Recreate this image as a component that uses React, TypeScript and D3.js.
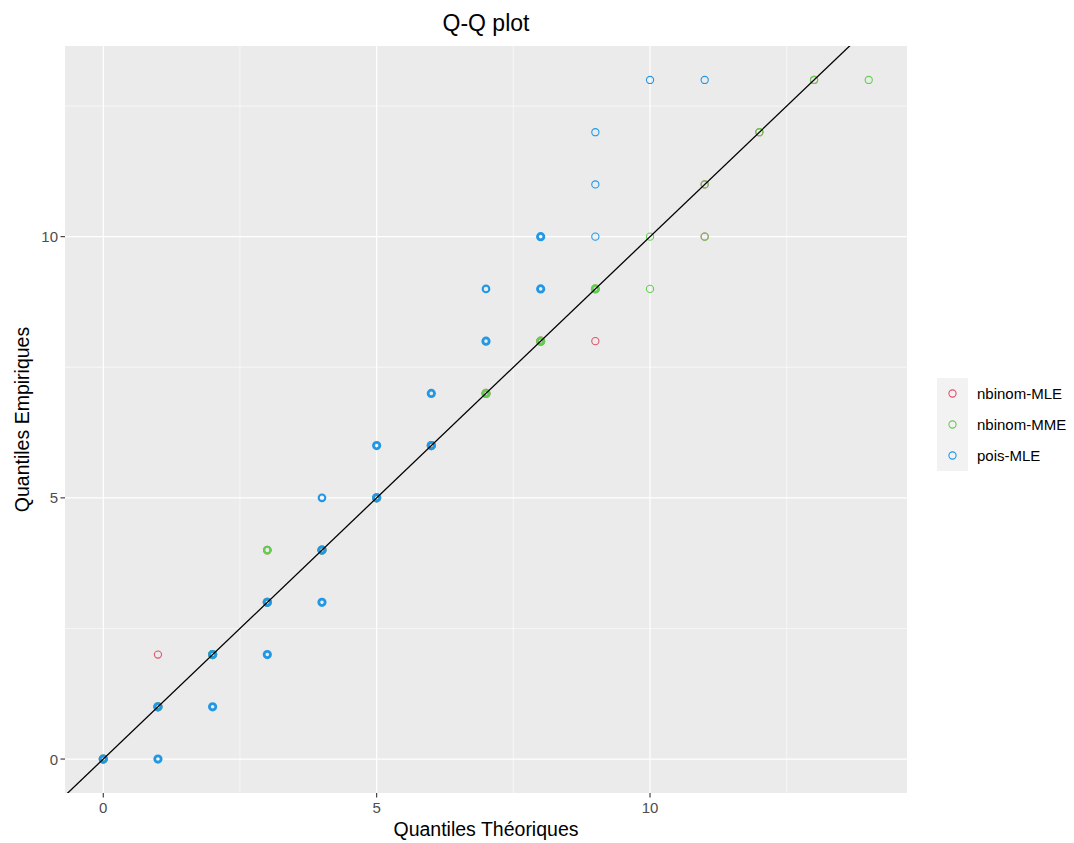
import * as d3 from "d3";
import React from "react";

// series, in drawing order (pois-MLE ends up on top)
const seriesNames = ["nbinom-MLE", "nbinom-MME", "pois-MLE"];
const seriesColors = ["#DF536B", "#61D04F", "#2297E6"];

// [theoretical quantile, empirical quantile, number of overlapping points]
const nbinomMLE: [number, number, number][] = [
  [0, 0, 4], [1, 1, 3], [1, 2, 1], [2, 2, 3], [3, 3, 3], [3, 4, 2],
  [4, 4, 3], [5, 5, 3], [6, 6, 3], [7, 7, 3], [8, 8, 3], [9, 8, 1],
  [9, 9, 2], [11, 10, 1], [11, 11, 1], [12, 12, 1], [13, 13, 1],
];
const nbinomMME: [number, number, number][] = [
  [0, 0, 4], [1, 1, 3], [2, 2, 3], [3, 3, 3], [3, 4, 2], [4, 4, 3],
  [5, 5, 3], [6, 6, 3], [7, 7, 3], [8, 8, 3], [9, 9, 3], [10, 9, 1],
  [10, 10, 1], [11, 10, 1], [11, 11, 1], [12, 12, 1], [13, 13, 1], [14, 13, 1],
];
const poisMLE: [number, number, number][] = [
  [0, 0, 4], [1, 0, 3], [1, 1, 3], [2, 1, 3], [2, 2, 3], [3, 2, 3],
  [3, 3, 3], [4, 3, 3], [4, 4, 3], [4, 5, 2], [5, 5, 3], [5, 6, 3],
  [6, 6, 3], [6, 7, 3], [7, 8, 3], [7, 9, 2], [8, 9, 3], [8, 10, 3],
  [9, 10, 1], [9, 11, 1], [9, 12, 1], [10, 13, 1], [11, 13, 1],
];
const seriesData = [nbinomMLE, nbinomMME, poisMLE];

const xTicks = [0, 5, 10];
const yTicks = [0, 5, 10];
const xMinor = [2.5, 7.5, 12.5];
const yMinor = [2.5, 7.5, 12.5];

const title = "Q-Q plot";
const xTitle = "Quantiles Théoriques";
const yTitle = "Quantiles Empiriques";

const W = 1074;
const H = 843;
const panel = { bottom: 793, left: 65, right: 907, top: 46 };
const font = "'Liberation Sans', Arial, Helvetica, sans-serif";

export default function App(): React.ReactElement {
  // ggplot style 5% expansion around [0,14] x [0,13]
  const x = d3.scaleLinear().domain([-0.7, 14.7]).range([panel.left, panel.right]);
  const y = d3.scaleLinear().domain([-0.65, 13.65]).range([panel.bottom, panel.top]);

  // overlapping hollow circles look heavier, so thicken the ring with the count
  const ringFor = (n: number) =>
    n >= 3 ? { r: 3.2, sw: 2.8 } : n === 2 ? { r: 3.3, sw: 2.1 } : { r: 3.6, sw: 1.1 };

  const lineGen = d3.line<number>().x((v) => x(v)).y((v) => y(v));
  const diag = lineGen([-1, 16]) ?? "";

  const pw = panel.right - panel.left;
  const ph = panel.bottom - panel.top;
  const midX = (panel.left + panel.right) / 2;
  const midY = (panel.top + panel.bottom) / 2;

  return (
    <div style={{ left: 0, position: "absolute", top: 0 }}>
      <svg height={H} width={W} style={{ display: "block" }} fontFamily={font}>
        <rect fill="#ffffff" height={H} width={W} />
        <defs>
          <clipPath id="panel-clip">
            <rect height={ph} width={pw} x={panel.left} y={panel.top} />
          </clipPath>
        </defs>

        {/* panel */}
        <rect fill="#EBEBEB" height={ph} width={pw} x={panel.left} y={panel.top} />
        {xMinor.map((t) => (
          <line key={`xm-${t}`} stroke="#fff" strokeWidth={0.6} x1={x(t)} x2={x(t)} y1={panel.top} y2={panel.bottom} />
        ))}
        {yMinor.map((t) => (
          <line key={`ym-${t}`} stroke="#fff" strokeWidth={0.6} x1={panel.left} x2={panel.right} y1={y(t)} y2={y(t)} />
        ))}
        {xTicks.map((t) => (
          <line key={`xg-${t}`} stroke="#fff" strokeWidth={1.2} x1={x(t)} x2={x(t)} y1={panel.top} y2={panel.bottom} />
        ))}
        {yTicks.map((t) => (
          <line key={`yg-${t}`} stroke="#fff" strokeWidth={1.2} x1={panel.left} x2={panel.right} y1={y(t)} y2={y(t)} />
        ))}

        {/* points */}
        <g clipPath="url(#panel-clip)">
          {seriesData.map((pts, si) =>
            pts.map(([tq, eq, n]) => {
              const ring = ringFor(n);
              return (
                <circle
                  cx={x(tq)}
                  cy={y(eq)}
                  fill="none"
                  key={`${si}-${tq}-${eq}`}
                  r={ring.r}
                  stroke={seriesColors[si]}
                  strokeWidth={ring.sw}
                />
              );
            })
          )}
          {/* y = x reference line */}
          <path d={diag} fill="none" stroke="#000" strokeWidth={1.3} />
        </g>

        {/* x axis */}
        {xTicks.map((t) => (
          <g key={`xt-${t}`}>
            <line stroke="#333" strokeWidth={1.1} x1={x(t)} x2={x(t)} y1={panel.bottom} y2={panel.bottom + 4.5} />
            <text fill="#4D4D4D" fontSize={15} textAnchor="middle" x={x(t)} y={panel.bottom + 20}>
              {t}
            </text>
          </g>
        ))}
        {/* y axis */}
        {yTicks.map((t) => (
          <g key={`yt-${t}`}>
            <line stroke="#333" strokeWidth={1.1} x1={panel.left - 4.5} x2={panel.left} y1={y(t)} y2={y(t)} />
            <text dominantBaseline="central" fill="#4D4D4D" fontSize={15} textAnchor="end" x={panel.left - 7} y={y(t)}>
              {t}
            </text>
          </g>
        ))}

        <text fill="#000" fontSize={19.5} textAnchor="middle" x={midX} y={836}>
          {xTitle}
        </text>
        <text fill="#000" fontSize={19.5} textAnchor="middle" transform={`translate(29,${midY}) rotate(-90)`}>
          {yTitle}
        </text>
        <text fill="#000" fontSize={23} textAnchor="middle" x={midX} y={31}>
          {title}
        </text>

        {/* legend */}
        <g transform="translate(937,378)">
          {seriesNames.map((name, i) => (
            <g key={`leg-${name}`} transform={`translate(0,${i * 31})`}>
              <rect fill="#F2F2F2" height={31} width={31} />
              <circle cx={15.5} cy={15.5} fill="none" r={3.6} stroke={seriesColors[i]} strokeWidth={1.1} />
              <text dominantBaseline="central" fill="#000" fontSize={15} x={40} y={15.5}>
                {name}
              </text>
            </g>
          ))}
        </g>
      </svg>
    </div>
  );
}
